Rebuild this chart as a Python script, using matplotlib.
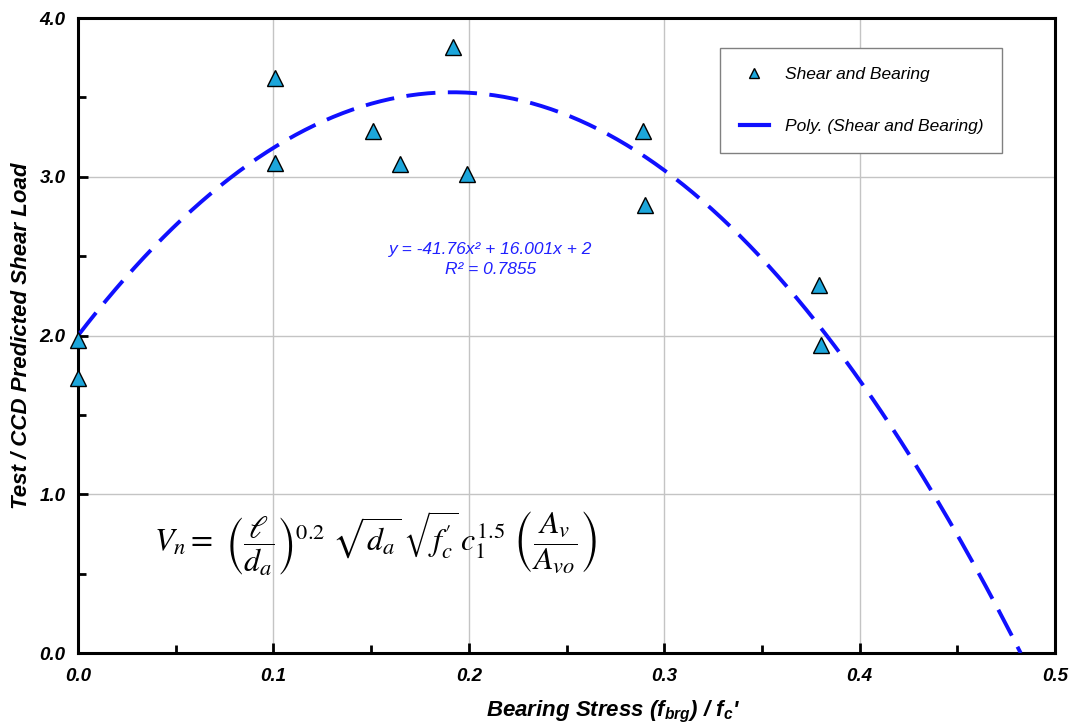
import numpy as np
import matplotlib.pyplot as plt
from matplotlib.lines import Line2D

# Measured test points (bearing stress ratio vs. test / CCD predicted shear load)
bearing_ratio = [0.0, 0.0, 0.101, 0.101, 0.151, 0.165, 0.192, 0.199, 0.289, 0.290, 0.379, 0.380]
load_ratio = [1.97, 1.73, 3.62, 3.09, 3.29, 3.08, 3.82, 3.02, 3.29, 2.82, 2.32, 1.94]

# Excel polynomial trendline coefficients as printed on the chart
poly_coef = [-41.76, 16.001, 2.0]
r_squared = 0.7855

x_ticks = [0.0, 0.1, 0.2, 0.3, 0.4, 0.5]
y_ticks = [0.0, 1.0, 2.0, 3.0, 4.0]

plt.rcParams['font.family'] = ['Liberation Sans', 'DejaVu Sans']
plt.rcParams['mathtext.fontset'] = 'custom'
plt.rcParams['mathtext.rm'] = 'Liberation Sans:italic:bold'
plt.rcParams['mathtext.it'] = 'Liberation Sans:italic:bold'

fig = plt.figure(figsize=(10.76, 7.24), dpi=100)
ax = fig.add_axes([0.0725, 0.098, 0.908, 0.877])

# trendline from x=0 to its root
root = max(np.roots(poly_coef))
xs = np.linspace(0, root, 300)
ax.plot(xs, np.polyval(poly_coef, xs), color='#1010ff', lw=2.8,
        dashes=(7.5, 3.2), zorder=3)

ax.plot(bearing_ratio, load_ratio, linestyle='none', marker='^', markersize=11,
        markerfacecolor='#1ca6db', markeredgecolor='black', markeredgewidth=1.0,
        clip_on=False, zorder=4)

ax.set_xlim(0, 0.5)
ax.set_ylim(0, 4.0)
ax.set_xticks(x_ticks)
ax.set_yticks(y_ticks)
ax.set_xticklabels([f'{v:.1f}' for v in x_ticks])
ax.set_yticklabels([f'{v:.1f}' for v in y_ticks])
ax.set_xticks(np.arange(0.05, 0.5, 0.1), minor=True)
ax.set_yticks(np.arange(0.5, 4.0, 1.0), minor=True)
ax.tick_params(which='both', direction='in', width=2, labelsize=13.5)
ax.tick_params(axis='x', pad=11)
ax.tick_params(axis='y', pad=9)
ax.tick_params(which='major', length=7)
ax.tick_params(which='minor', length=6)
for lab in ax.get_xticklabels() + ax.get_yticklabels():
    lab.set_fontweight('bold')
    lab.set_fontstyle('italic')

ax.grid(True, which='major', color='#c4c4c4', lw=1.0)
ax.set_axisbelow(True)
for sp in ax.spines.values():
    sp.set_linewidth(2.2)

ax.set_xlabel("Bearing Stress (f$_{brg}$) / f$_{c}$'", fontsize=16,
              fontweight='bold', fontstyle='italic')
ax.xaxis.set_label_coords(0.548, -0.072)
ax.set_ylabel('Test / CCD Predicted Shear Load', fontsize=16,
              fontweight='bold', fontstyle='italic')
ax.yaxis.set_label_coords(-0.047, 0.5)

# trendline equation
eq = f'y = {poly_coef[0]:g}x\u00b2 + {poly_coef[1]:.3f}x + {poly_coef[2]:g}\nR\u00b2 = {r_squared}'
ax.text(0.211, 2.48, eq, color='#2020ff', fontsize=12.5, fontstyle='italic',
        ha='center', va='center', linespacing=1.45)

# design equation
formula = (r"$V_n =\ \left(\dfrac{\ell}{d_a}\right)^{0.2}\ \sqrt{d_a}\,\sqrt{f_c^{\prime}}\,"
           r"c_1^{1.5}\ \left(\dfrac{A_v}{A_{vo}}\right)$")
ax.text(0.152, 0.69, formula, fontsize=23, ha='center', va='center',
        math_fontfamily='stix', zorder=5)

handles = [
    Line2D([], [], linestyle='none', marker='^', markersize=7,
           markerfacecolor='#1ca6db', markeredgecolor='black'),
    Line2D([], [], color='#1010ff', lw=3),
]
leg = ax.legend(handles, ['Shear and Bearing', 'Poly. (Shear and Bearing)'],
                loc='upper right', bbox_to_anchor=(0.946, 0.953),
                fancybox=False, framealpha=1, edgecolor='#808080',
                prop={'size': 12.5, 'style': 'italic'},
                borderpad=1.1, labelspacing=2.1, handlelength=1.7,
                handletextpad=0.9, borderaxespad=0)
leg.get_frame().set_linewidth(1.0)

fig.savefig('out.png', dpi=100)
